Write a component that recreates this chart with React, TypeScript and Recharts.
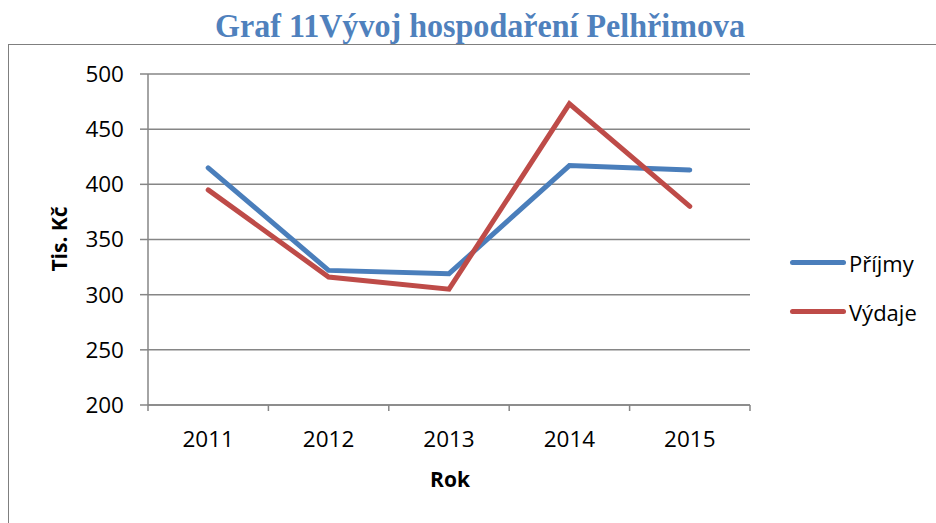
import { LineChart, Line, XAxis, YAxis, CartesianGrid } from 'recharts'

const years = ['2011', '2012', '2013', '2014', '2015']
const prijmy = [415, 322, 319, 417, 413]
const vydaje = [395, 316, 305, 473, 380]
const yTicks = [200, 250, 300, 350, 400, 450, 500]

const data = years.map((rok, i) => ({ rok, prijmy: prijmy[i], vydaje: vydaje[i] }))

const series = [
  { key: 'prijmy', name: 'Příjmy', color: '#4A7EBB' },
  { key: 'vydaje', name: 'Výdaje', color: '#BE4B48' },
]

const W = 936
const H = 523
const PLOT_LEFT = 148
const PLOT_RIGHT = 750
const PLOT_BOTTOM = 405
const BAND = (PLOT_RIGHT - PLOT_LEFT) / years.length
const FONT = '"Open Sans", "Noto Sans", sans-serif'
const GRID = '#868686'

function YearTick(props: any) {
  const { x, y, payload, index } = props
  const last = index === years.length - 1
  return (
    <g>
      <line x1={x - BAND / 2} x2={x - BAND / 2} y1={y} y2={y + 6} stroke={GRID} strokeWidth={1.5} />
      {last && <line x1={x + BAND / 2} x2={x + BAND / 2} y1={y} y2={y + 6} stroke={GRID} strokeWidth={1.5} />}
      <text x={x} y={y + 42} textAnchor="middle" fontSize={22.5} fontFamily={FONT} fill="#000">
        {payload.value}
      </text>
    </g>
  )
}

export default function App() {
  return (
    <div style={{ position: 'absolute', left: 0, top: 0, width: W, height: H, background: '#fff', overflow: 'hidden' }}>
      <div style={{ position: 'absolute', left: 8, top: 44, width: 960, height: 520, border: '1.5px solid #7f7f7f' }} />
      <svg style={{ position: 'absolute', left: 0, top: 0 }} width={W} height={60}>
        <text x={215} y={37} textLength={530} lengthAdjust="spacingAndGlyphs" fontFamily='"Liberation Serif", serif' fontWeight="bold" fontSize={33} fill="#4F81BD">
          Graf 11Vývoj hospodaření Pelhřimova
        </text>
      </svg>
      <div style={{ position: 'absolute', left: 0, top: 0 }}>
        <LineChart width={W} height={H} data={data} margin={{ top: 74, right: W - PLOT_RIGHT, bottom: 0, left: 0 }}>
          <CartesianGrid vertical={false} stroke={GRID} strokeWidth={1.5} />
          <XAxis dataKey="rok" height={H - PLOT_BOTTOM} padding={{ left: BAND / 2, right: BAND / 2 }} axisLine={{ stroke: GRID, strokeWidth: 1.5 }} tickLine={false} tickSize={0} tickMargin={0} tick={<YearTick />} interval={0} />
          <YAxis width={PLOT_LEFT} domain={[200, 500]} ticks={yTicks} interval={0} axisLine={{ stroke: GRID, strokeWidth: 1.5 }} tickLine={{ stroke: GRID, strokeWidth: 1.5 }} tickSize={8} tickMargin={16} tick={{ fontSize: 22.5, fontFamily: FONT, fill: '#000' }} />
          {series.map((s) => (
            <Line key={s.key} name={s.name} dataKey={s.key} stroke={s.color} strokeWidth={5} strokeLinecap="round" dot={false} isAnimationActive={false} />
          ))}
        </LineChart>
      </div>
      <div style={{ position: 'absolute', left: 790, top: 238 }}>
        {series.map((s) => (
          <div key={s.key} style={{ display: 'flex', alignItems: 'center', height: 49 }}>
            <div style={{ width: 56, height: 5, borderRadius: 3, background: s.color, marginRight: 3 }} />
            <span style={{ fontFamily: FONT, fontSize: 22, color: '#000' }}>{s.name}</span>
          </div>
        ))}
      </div>
      <div style={{ position: 'absolute', left: 59, top: 239, transform: 'translate(-50%, -50%) rotate(-90deg)', fontFamily: FONT, fontWeight: 'bold', fontSize: 21, whiteSpace: 'nowrap' }}>
        Tis. Kč
      </div>
      <div style={{ position: 'absolute', left: 450, top: 479, transform: 'translate(-50%, -50%)', fontFamily: FONT, fontWeight: 'bold', fontSize: 21 }}>
        Rok
      </div>
    </div>
  )
}
